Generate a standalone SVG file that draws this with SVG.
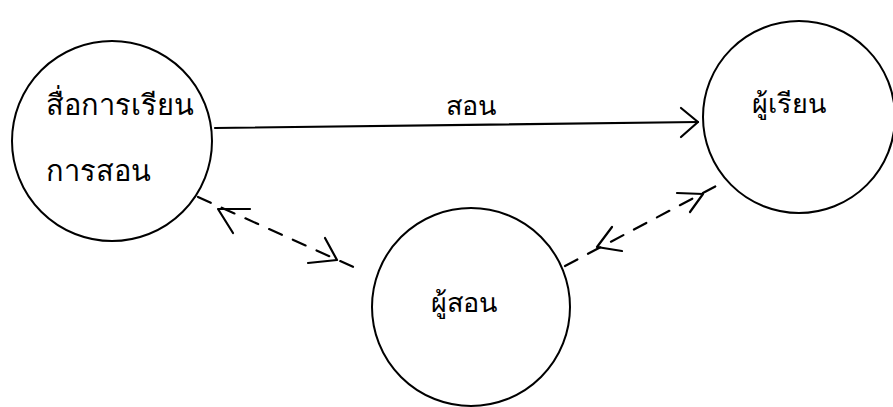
<svg xmlns="http://www.w3.org/2000/svg" width="893" height="407" viewBox="0 0 893 407">
<style>
.node{fill:none;stroke:#000;stroke-width:2}
.lbl{font-family:"Noto Sans","DejaVu Sans",sans-serif;font-size:27px;fill:#000}
.big{font-size:29px}
.con{fill:none;stroke:#000;stroke-width:2.2;stroke-linecap:round;stroke-linejoin:round}
.dash{stroke-dasharray:14 12}
</style>
<rect width="893" height="407" fill="#fff"/>
<g id="node-media">
<circle class="node" cx="112" cy="141" r="100"/>
<text class="lbl big" x="46" y="115">สื่อการเรียน</text>
<text class="lbl big" x="46" y="181">การสอน</text>
</g>
<g id="node-learner">
<circle class="node" cx="799" cy="117" r="96"/>
<text class="lbl" x="752" y="113">ผู้เรียน</text>
</g>
<g id="node-teacher">
<circle class="node" cx="471" cy="307" r="99"/>
<text class="lbl" x="431" y="312">ผู้สอน</text>
</g>
<g id="connectors">
<line class="con" x1="215" y1="128" x2="698" y2="122"/>
<polyline class="con" points="681,108 698,122 681,137"/>
<text class="lbl" x="446" y="115">สอน</text>
<line class="con dash" x1="198" y1="197" x2="360" y2="270"/>
<polyline class="con" points="250,209 218,209 233,233"/>
<polyline class="con" points="325,238 337,260 308,263"/>
<line class="con dash" x1="565" y1="266" x2="720" y2="184"/>
<polyline class="con" points="612,227 597,247 622,251"/>
<polyline class="con" points="677,193 703,194 690,212"/>
</g>
</svg>
